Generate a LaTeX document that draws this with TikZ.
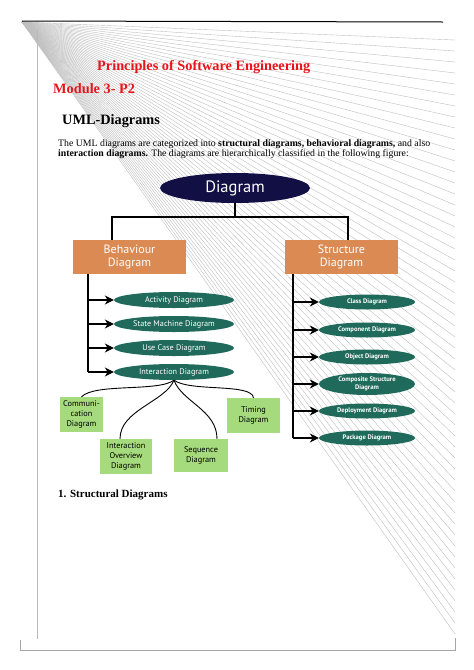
\documentclass[tikz,border=0pt]{standalone}
\usepackage{fontspec}
\setmainfont{Liberation Serif}
\newfontfamily\diafont{PT Sans}
\usetikzlibrary{shapes.geometric,arrows.meta}

\definecolor{rootnavy}{HTML}{120F45}
\definecolor{grouporange}{HTML}{DA8A52}
\definecolor{kindteal}{HTML}{1F6A5B}
\definecolor{leafgreen}{HTML}{A5DB7C}
\definecolor{titlered}{HTML}{E8141B}

\tikzstyle{root} = [ellipse,fill=rootnavy,text=white,minimum width=150pt,minimum height=30pt,inner sep=0pt,font=\diafont\fontsize{16.5}{17}\selectfont]
\tikzstyle{group} = [rectangle,fill=grouporange,text=white,minimum width=113pt,minimum height=34pt,inner sep=0pt,align=center,font=\diafont\fontsize{12}{13.5}\selectfont]
\tikzstyle{bkind} = [ellipse,fill=kindteal,text=white,minimum width=120pt,minimum height=16pt,inner sep=0pt,font=\diafont\fontsize{8.2}{9}\selectfont]
\tikzstyle{skind} = [ellipse,fill=kindteal,text=white,minimum width=96pt,minimum height=15pt,inner sep=0pt,align=center,font=\diafont\bfseries\fontsize{6.6}{7.5}\selectfont]
\tikzstyle{leaf} = [rectangle,fill=leafgreen,minimum height=35pt,inner sep=0pt,align=center,font=\diafont\fontsize{8.3}{10.2}\selectfont]
\tikzstyle{line} = [anchor=base west,inner sep=0pt]
\tikzstyle{tree} = [line width=1.2pt]
\tikzstyle{branch} = [line width=1.2pt,-{Stealth[length=9pt,width=9pt]}]
\tikzstyle{fan} = [gray!50,line width=0.4pt]

\begin{document}
\begin{tikzpicture}[x=1pt,y=-1pt]
	\useasboundingbox (0,0) rectangle (474,670);
	\fill[white] (0,0) rectangle (474,670);

	% scanned page: fan of lines and edges
	\foreach \k in {0,...,54}
		\draw[fan] (22,22) -- (455,{40+11*\k});
	\draw[black,line width=1pt] (22,21) -- (443,22);
	\draw[gray!55,line width=0.6pt] (37,30) -- (37,639);
	\draw[gray!70,line width=0.8pt] (20,640) -- (20,650) -- (455,650) -- (455,638);

	% text
	\node[line,text=titlered,font=\bfseries\fontsize{14.3}{16}\selectfont] (course) at (97,70) {Principles of Software Engineering};
	\node[line,text=titlered,font=\bfseries\fontsize{14.3}{16}\selectfont] (module) at (53,93) {Module 3- P2};
	\node[line,font=\bfseries\fontsize{14.3}{16}\selectfont] (heading) at (62,124) {UML-Diagrams};
	\node[line,font=\fontsize{9.8}{10.6}\selectfont] (intro1) at (58,146) {The UML diagrams are categorized into \textbf{structural diagrams, behavioral diagrams,} and also};
	\node[line,font=\fontsize{9.8}{10.6}\selectfont] (intro2) at (58,156.5) {\textbf{interaction diagrams.} The diagrams are hierarchically classified in the following figure:};
	\node[line,font=\bfseries\fontsize{11}{13}\selectfont] (section) at (58,497) {1. Structural Diagrams};

	% hierarchy
	\node[root] (diag) at (235,188) {Diagram};
	\node[group] (bv) at (129.5,257) {Behaviour\\Diagram};
	\node[group] (st) at (341.5,257) {Structure\\Diagram};
	\coordinate (split) at (235,217);
	\draw[tree] (diag.south) -- (split);
	\draw[tree] ([xshift=-17.5pt]bv.north) |- (split) -| ([xshift=6.5pt]st.north);

	\node[bkind] (act) at (174,300) {Activity Diagram};
	\node[bkind] (sm) at (174,324) {State Machine Diagram};
	\node[bkind] (uc) at (174,348) {Use Case Diagram};
	\node[bkind] (inter) at (174,372) {Interaction Diagram};
	\coordinate (bend) at (88,372);
	\draw[tree] (bv.south -| bend) -- (bend);
	\foreach \k in {act,sm,uc,inter}
		\draw[branch] (\k -| bend) -- (\k.west);

	\node[skind] (cls) at (367,302) {Class Diagram};
	\node[skind] (comp) at (367,330) {Component Diagram};
	\node[skind] (obj) at (367,357) {Object Diagram};
	\node[skind,minimum height=22pt] (cst) at (367,384) {Composite Structure\\Diagram};
	\node[skind] (dep) at (367,411) {Deployment Diagram};
	\node[skind] (pkg) at (367,438) {Package Diagram};
	\coordinate (send) at (293,438);
	\draw[tree] (st.south -| send) -- (send);
	\foreach \k in {cls,comp,obj,cst,dep,pkg}
		\draw[branch] (\k -| send) -- (\k.west);

	\node[leaf,minimum width=43pt] (com) at (81.5,414.5) {Communi-\\cation\\Diagram};
	\node[leaf,minimum width=53pt] (tim) at (253.5,415.5) {Timing\\Diagram};
	\node[leaf,minimum width=52pt] (ovw) at (126,456.5) {Interaction\\Overview\\Diagram};
	\node[leaf,minimum width=54pt,minimum height=33pt] (seq) at (201,455.5) {Sequence\\Diagram};
	\draw[line width=0.9pt] (inter.south) .. controls (158,392) and (95,383) .. (com.north);
	\draw[line width=0.9pt] (inter.south) .. controls (165,402) and (120,410) .. ([xshift=-6pt]ovw.north);
	\draw[line width=0.9pt] (inter.south) .. controls (182,402) and (217,410) .. ([xshift=16pt]seq.north);
	\draw[line width=0.9pt] (inter.south) .. controls (190,392) and (252,383) .. (tim.north);
\end{tikzpicture}
\end{document}
